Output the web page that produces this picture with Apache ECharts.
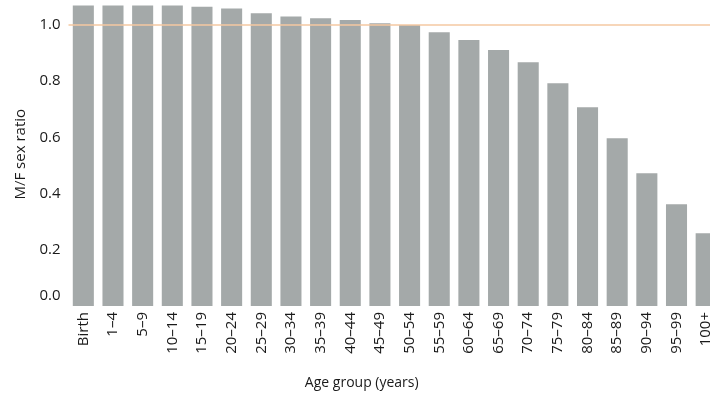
<!DOCTYPE html>
<html>
<head>
<meta charset="utf-8">
<script src="https://cdn.jsdelivr.net/npm/echarts@6/dist/echarts.min.js"></script>
<style>
html,body{margin:0;padding:0;background:#fff;overflow:hidden;}
#chart{width:721px;height:396px;}
</style>
</head>
<body>
<div id="chart"></div>
<script>
const categories = ["Birth","1–4","5–9","10–14","15–19","20–24","25–29","30–34","35–39","40–44","45–49","50–54","55–59","60–64","65–69","70–74","75–79","80–84","85–89","90–94","95–99","100+"];
const ratios = [1.069,1.069,1.069,1.069,1.065,1.059,1.042,1.030,1.024,1.018,1.006,1.000,0.974,0.947,0.911,0.867,0.793,0.707,0.597,0.472,0.362,0.259];
const yTicks = [0.0,0.2,0.4,0.6,0.8,1.0];
const referenceLevel = 1.0;

const font = "'Open Sans', 'Noto Sans', sans-serif";
const textColor = '#1a1a1a';
const chart = echarts.init(document.getElementById('chart'), null, {renderer:'canvas'});
chart.setOption({
  animation:false,
  grid:{left:68.5, right:0, top:2.5, bottom:90, containLabel:false},
  xAxis:{
    type:'category',
    data:categories,
    axisLine:{show:false},
    axisTick:{show:false},
    axisLabel:{rotate:90, margin:6, fontSize:15, color:textColor, fontFamily:font, interval:0},
    name:'Age group (years)',
    nameLocation:'middle',
    nameGap:70,
    nameTextStyle:{fontSize:14, color:textColor, fontFamily:font, padding:[0,66,0,0]}
  },
  yAxis:{
    type:'value',
    min:0, max:1.08, interval:0.2,
    splitLine:{show:false},
    axisLine:{show:false},
    axisTick:{show:false},
    axisLabel:{
      margin:8, fontSize:15, color:textColor, fontFamily:font,
      formatter:function(v){
        const hit = yTicks.find(t=>Math.abs(t-v)<1e-6);
        if(hit===undefined) return '';
        if(hit===0) return '{z|0.0}';
        return hit.toFixed(1);
      },
      rich:{z:{fontSize:15, color:textColor, fontFamily:font, padding:[0,0,20,0]}}
    },
    name:'M/F sex ratio',
    nameLocation:'middle',
    nameGap:38,
    nameTextStyle:{fontSize:15, color:textColor, fontFamily:font}
  },
  series:[{
    type:'bar',
    data:ratios,
    barCategoryGap:'29%',
    itemStyle:{color:'#a4a9a9'},
    markLine:{
      silent:true,
      symbol:['none','none'],
      label:{show:false},
      lineStyle:{color:'#f4c9a2', width:1.5, type:'solid'},
      data:[{yAxis:referenceLevel}]
    }
  }]
});
</script>
</body>
</html>
